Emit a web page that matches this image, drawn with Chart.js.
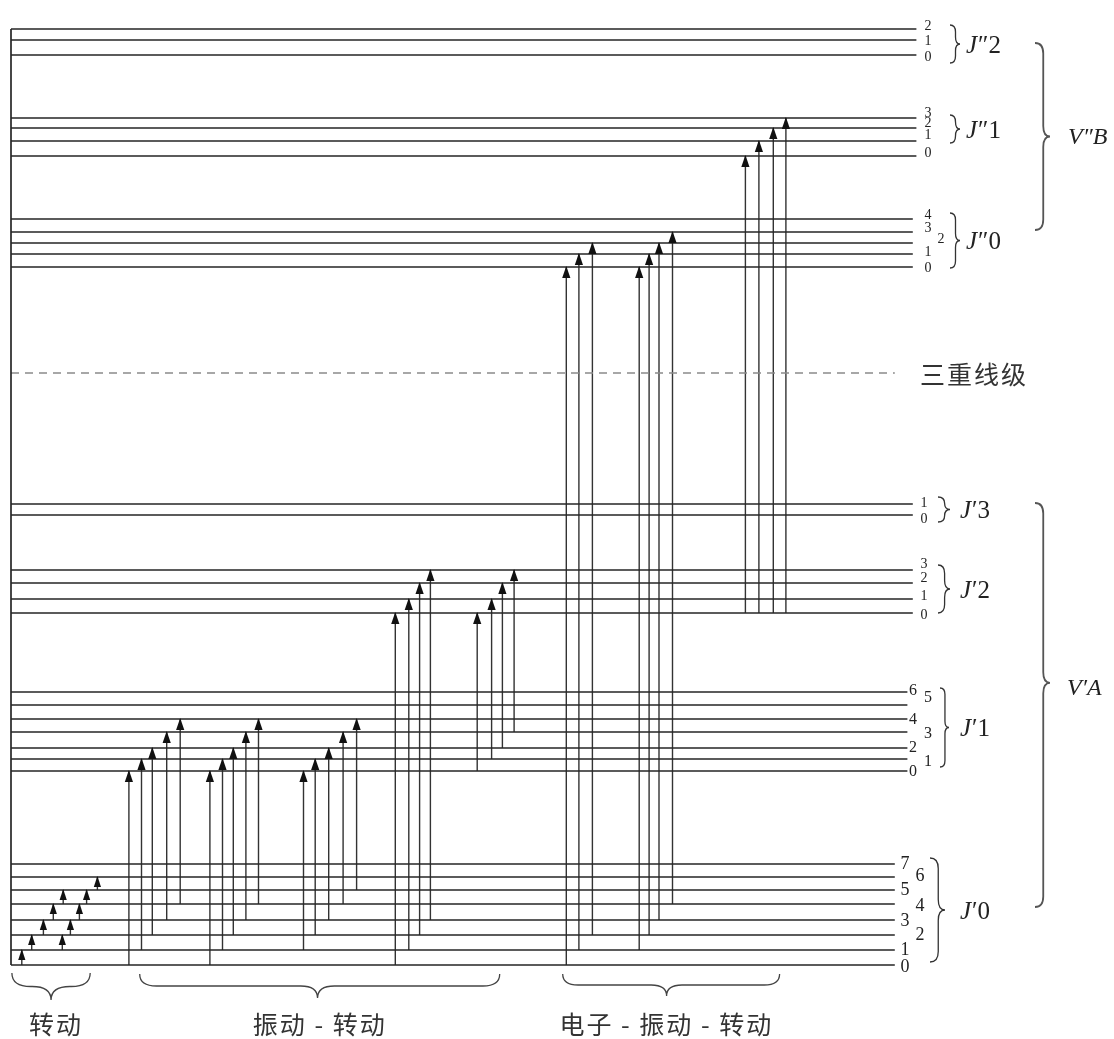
<!DOCTYPE html>
<html>
<head>
<meta charset="utf-8">
<script src="https://cdn.jsdelivr.net/npm/chart.js@4/dist/chart.umd.min.js"></script>
<style>
  html, body { margin: 0; padding: 0; background: #fff; }
  #wrap { width: 1114px; height: 1039px; position: relative; }
</style>
</head>
<body>
<div id="wrap"><canvas id="c"></canvas></div>
<script>
// ---- Energy levels (arbitrary energy units, lowest rotational level of V'A, J'0 = 0) ----
const levelsA0 = [0, 1.5, 3.0, 4.5, 6.1, 7.5, 8.8, 10.1];    // J'0, J = 0..7
const levelsA1 = [19.4, 20.6, 21.7, 23.3, 24.6, 26.0, 27.3];  // J'1, J = 0..6
const levelsA2 = [35.2, 36.6, 38.2, 39.5];                    // J'2, J = 0..3
const levelsA3 = [45.0, 46.1];                                // J'3, J = 0..1
const levelsB0 = [69.8, 71.1, 72.2, 73.3, 74.6];              // J"0, J = 0..4
const levelsB1 = [80.9, 82.4, 83.7, 84.7];                    // J"1, J = 0..3
const levelsB2 = [91.0, 92.5, 93.6];                          // J"2, J = 0..2
const tripletLevel = 59.2;                                    // 三重线级

const bandNames = ['J′0', 'J′1', 'J′2', 'J′3', 'J″0', 'J″1', 'J″2'];
const bandLevels = [levelsA0, levelsA1, levelsA2, levelsA3, levelsB0, levelsB1, levelsB2];

// ---- Transitions: column position, lower (band, J), upper (band, J) ----
// pure rotational, inside J'0
const rotX    = [1.2, 2.3, 3.6, 4.7, 5.8, 5.7, 6.6, 7.6, 8.4, 9.6];
const rotLowJ = [0, 1, 2, 3, 4, 1, 2, 3, 4, 5];
const rotUpJ  = [1, 2, 3, 4, 5, 2, 3, 4, 5, 6];

// vibration-rotation, inside V'A
const vibRotX       = [13.1, 14.5, 15.7, 17.3, 18.8,  22.1, 23.5, 24.7, 26.1, 27.5,  32.5, 33.8, 35.3, 36.9, 38.4,  42.7, 44.2, 45.4, 46.6,  51.8, 53.4, 54.6, 55.9];
const vibRotLowBand = [0, 0, 0, 0, 0,  0, 0, 0, 0, 0,  0, 0, 0, 0, 0,  0, 0, 0, 0,  1, 1, 1, 1];
const vibRotLowJ    = [0, 1, 2, 3, 4,  0, 1, 2, 3, 4,  1, 2, 3, 4, 5,  0, 1, 2, 3,  0, 1, 2, 3];
const vibRotUpBand  = [1, 1, 1, 1, 1,  1, 1, 1, 1, 1,  1, 1, 1, 1, 1,  2, 2, 2, 2,  2, 2, 2, 2];
const vibRotUpJ     = [0, 1, 2, 3, 4,  0, 1, 2, 3, 4,  0, 1, 2, 3, 4,  0, 1, 2, 3,  0, 1, 2, 3];

// electronic-vibration-rotation, V'A -> V"B
const elecX       = [61.7, 63.1, 64.6,  69.8, 70.9, 72.0, 73.5,  81.6, 83.1, 84.7, 86.1];
const elecLowBand = [0, 0, 0,  0, 0, 0, 0,  2, 2, 2, 2];
const elecLowJ    = [0, 1, 2,  1, 2, 3, 4,  0, 0, 0, 0];
const elecUpBand  = [4, 4, 4,  4, 4, 4, 4,  5, 5, 5, 5];
const elecUpJ     = [0, 1, 2,  0, 1, 2, 3,  0, 1, 2, 3];

// ---- layout ----
const bandLineEnd = [98.2, 99.6, 100.2, 100.2, 100.2, 100.6, 100.6];
const tripletLineEnd = 98.2;
const INK = '#262626';

// ---- build line datasets ----
function gapped(segments) {
  const out = [];
  segments.forEach(s => { out.push({ x: s[0], y: s[1] }, { x: s[2], y: s[3] }, { x: s[2], y: null }); });
  return out;
}
const levelSegs = [];
bandLevels.forEach((lv, b) => lv.forEach(e => levelSegs.push([0, e, bandLineEnd[b], e])));

const arrows = [];
rotX.forEach((x, i) => arrows.push({ x, lo: levelsA0[rotLowJ[i]], hi: levelsA0[rotUpJ[i]], kind: 'rot' }));
vibRotX.forEach((x, i) => arrows.push({ x, lo: bandLevels[vibRotLowBand[i]][vibRotLowJ[i]], hi: bandLevels[vibRotUpBand[i]][vibRotUpJ[i]], kind: 'vib' }));
elecX.forEach((x, i) => arrows.push({ x, lo: bandLevels[elecLowBand[i]][elecLowJ[i]], hi: bandLevels[elecUpBand[i]][elecUpJ[i]], kind: 'elec' }));
const shaftSegs = kind => arrows.filter(a => a.kind === kind).map(a => [a.x, a.lo, a.x, a.hi]);

const topLevel = levelsB2[levelsB2.length - 1];

// ---- annotation helpers ----
function braceRight(ctx, x0, yTop, yBot, depth, tipFrac) {
  const ym = yTop + (yBot - yTop) * (tipFrac == null ? 0.5 : tipFrac);
  const xb = x0 + depth * 0.55, xt = x0 + depth;
  const r = Math.min(depth * 0.7, (ym - yTop) / 2, (yBot - ym) / 2);
  ctx.beginPath();
  ctx.moveTo(x0, yTop);
  ctx.quadraticCurveTo(xb, yTop, xb, yTop + r);
  ctx.lineTo(xb, ym - r);
  ctx.quadraticCurveTo(xb, ym, xt, ym);
  ctx.quadraticCurveTo(xb, ym, xb, ym + r);
  ctx.lineTo(xb, yBot - r);
  ctx.quadraticCurveTo(xb, yBot, x0, yBot);
  ctx.stroke();
}
function braceDown(ctx, xL, xR, y0, depth, tipFrac) {
  const xm = xL + (xR - xL) * (tipFrac == null ? 0.5 : tipFrac);
  const yb = y0 + depth * 0.5, yt = y0 + depth;
  const r = Math.min(depth * 0.7, (xm - xL) / 2, (xR - xm) / 2);
  ctx.beginPath();
  ctx.moveTo(xL, y0);
  ctx.quadraticCurveTo(xL, yb, xL + r, yb);
  ctx.lineTo(xm - r, yb);
  ctx.quadraticCurveTo(xm, yb, xm, yt);
  ctx.quadraticCurveTo(xm, yb, xm + r, yb);
  ctx.lineTo(xR - r, yb);
  ctx.quadraticCurveTo(xR, yb, xR, y0);
  ctx.stroke();
}
function spacedText(ctx, str, cx, y, extra) {
  const chars = Array.from(str);
  const widths = chars.map(ch => ctx.measureText(ch).width + extra);
  const total = widths.reduce((a, b) => a + b, 0) - extra;
  let x = cx - total / 2;
  ctx.textAlign = 'left';
  chars.forEach((ch, i) => { ctx.fillText(ch, x, y); x += widths[i]; });
}
function bandLabel(ctx, name, x, y) {
  // italic J followed by upright prime(s) and number
  ctx.textAlign = 'left';
  ctx.font = 'italic 25px "Liberation Serif", serif';
  ctx.fillText(name[0], x, y);
  const w = ctx.measureText(name[0]).width;
  ctx.font = '25px "Liberation Serif", serif';
  ctx.fillText(name.slice(1), x + w + 1, y);
}

// J-number label placement per band: [x offset from plot right edge, dy] by J
const numberLayout = [
  { size: 18, pos: [[-15, 2], [-15, 0], [0, 0], [-15, 1], [0, 2], [-15, 0], [0, -1], [-15, 0]] },
  { size: 16, pos: [[-7, 1], [8, 3], [-7, 0], [8, 2], [-7, 1], [8, -7], [-7, -1]] },
  { size: 14, pos: [[4, 2], [4, -3], [4, -5], [4, -6]] },
  { size: 14, pos: [[4, 4], [4, -1]] },
  { size: 14, pos: [[8, 1], [8, -2], [21, -4], [8, -4], [8, -4]] },
  { size: 14, pos: [[8, -3], [8, -6], [8, -5], [8, -5]] },
  { size: 14, pos: [[8, 2], [8, 1], [8, -3]] }
];
// small braces per band: x offset, top/bottom offsets from outer levels, depth
const smallBraces = [
  { dx: 10, t: -6, b: -3, d: 15, lx: 40 },
  { dx: 20, t: -4, b: -4, d: 9,  lx: 40 },
  { dx: 18, t: -5, b: 0,  d: 12, lx: 40 },
  { dx: 18, t: -7, b: 7,  d: 12, lx: 40 },
  { dx: 30, t: -6, b: 1,  d: 10, lx: 46 },
  { dx: 30, t: -3, b: -13, d: 10, lx: 46 },
  { dx: 30, t: -4, b: 8,  d: 10, lx: 46 }
];

const diagramDecor = {
  id: 'diagramDecor',
  afterDatasetsDraw(chart) {
    const ctx = chart.ctx, xs = chart.scales.x, ys = chart.scales.y;
    const X = v => xs.getPixelForValue(v), Y = v => ys.getPixelForValue(v);
    const R = chart.chartArea.right;
    ctx.save();

    // arrowheads
    ctx.fillStyle = '#111';
    arrows.forEach(a => {
      const px = X(a.x), py = Y(a.hi);
      const hw = a.kind === 'rot' ? 3.6 : 4.1;
      const h = a.kind === 'rot' ? 10 : 11;
      ctx.beginPath();
      ctx.moveTo(px, py - 1);
      ctx.lineTo(px + hw, py + h);
      ctx.lineTo(px - hw, py + h);
      ctx.closePath();
      ctx.fill();
    });

    // J numbers beside the levels
    ctx.fillStyle = '#222';
    ctx.textBaseline = 'middle';
    ctx.textAlign = 'center';
    bandLevels.forEach((lv, b) => {
      const lay = numberLayout[b];
      ctx.font = lay.size + 'px "Liberation Serif", serif';
      lv.forEach((e, j) => {
        const p = lay.pos[j];
        ctx.fillText(String(j), R + p[0], Y(e) + p[1]);
      });
    });

    // small braces and band names
    ctx.strokeStyle = '#333';
    ctx.lineWidth = 1.3;
    bandLevels.forEach((lv, b) => {
      const s = smallBraces[b];
      const yTop = Y(lv[lv.length - 1]) + s.t, yBot = Y(lv[0]) + s.b;
      braceRight(ctx, R + s.dx, yTop, yBot, s.d);
      bandLabel(ctx, bandNames[b], R + s.lx, (yTop + yBot) / 2 + 2);
    });

    // vibrational-state braces
    ctx.lineWidth = 1.8;
    ctx.strokeStyle = '#555';
    const bTop = Y(levelsB2[1]) + 3, bBot = Y(levelsB0[3]) - 2;
    braceRight(ctx, R + 115, bTop, bBot, 15, 0.5);
    const aTop = Y(levelsA3[1]) - 1, aBot = Y(levelsA0[4]) + 3;
    braceRight(ctx, R + 115, aTop, aBot, 15, 0.445);
    ctx.fillStyle = '#222';
    ctx.font = 'italic 24px "Liberation Serif", serif';
    ctx.textAlign = 'left';
    ctx.fillText('V″B', R + 148, (bTop + bBot) / 2 + 1);
    ctx.fillText('V′A', R + 147, aTop + (aBot - aTop) * 0.445 + 6);

    // triplet level label
    ctx.fillStyle = '#333';
    ctx.font = '25px "Noto Sans CJK SC", sans-serif';
    const tw = Array.from('三重线级').reduce((s, ch) => s + ctx.measureText(ch).width + 2, -2);
    spacedText(ctx, '三重线级', R + tw / 2, Y(tripletLevel) + 1, 2);

    // group braces underneath
    ctx.strokeStyle = '#444';
    ctx.lineWidth = 1.3;
    const yb = Y(0) + 9;
    braceDown(ctx, X(0.1), X(8.8), yb - 1, 27, 0.5);
    braceDown(ctx, X(14.3), X(54.3), yb, 24, 0.494);
    braceDown(ctx, X(61.3), X(85.4), yb, 22, 0.479);
    ctx.fillStyle = '#333';
    ctx.font = '25px "Noto Sans CJK SC", sans-serif';
    spacedText(ctx, '转动', X(4.9), Y(0) + 59, 2);
    spacedText(ctx, '振动 - 转动', X(34.2), Y(0) + 59, 2);
    spacedText(ctx, '电子 - 振动 - 转动', X(72.7), Y(0) + 59, 2);

    ctx.restore();
  }
};

const lineBase = { showLine: true, pointRadius: 0, spanGaps: false, clip: false, borderCapStyle: 'butt' };

new Chart(document.getElementById('c'), {
  type: 'line',
  data: {
    datasets: [
      Object.assign({ label: 'levels', data: gapped(levelSegs), borderColor: INK, borderWidth: 1.7 }, lineBase),
      Object.assign({ label: 'axis', data: gapped([[0, 0, 0, topLevel]]), borderColor: INK, borderWidth: 1.7 }, lineBase),
      Object.assign({ label: 'triplet', data: gapped([[0, tripletLevel, tripletLineEnd, tripletLevel]]), borderColor: '#8a8a8a', borderWidth: 1.4, borderDash: [8, 6] }, lineBase),
      Object.assign({ label: 'rotation', data: gapped(shaftSegs('rot')), borderColor: '#333', borderWidth: 1.4 }, lineBase),
      Object.assign({ label: 'vibration-rotation', data: gapped(shaftSegs('vib')), borderColor: '#333', borderWidth: 1.4 }, lineBase),
      Object.assign({ label: 'electronic', data: gapped(shaftSegs('elec')), borderColor: '#333', borderWidth: 1.4 }, lineBase)
    ]
  },
  options: {
    responsive: true,
    maintainAspectRatio: false,
    animation: false,
    events: [],
    layout: { padding: { left: 11, right: 194, top: 15, bottom: 74 } },
    scales: {
      x: { type: 'linear', min: 0, max: 101, display: false },
      y: { type: 'linear', min: 0, max: 95, display: false }
    },
    plugins: { legend: { display: false }, tooltip: { enabled: false } }
  },
  plugins: [diagramDecor]
});
</script>
</body>
</html>
